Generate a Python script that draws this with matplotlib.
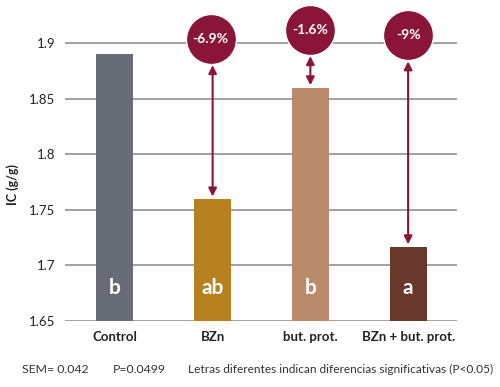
import matplotlib
matplotlib.use("Agg")
import matplotlib.pyplot as plt

plt.rcParams['font.family'] = ['Lato', 'DejaVu Sans']

categories = ["Control", "BZn", "but. prot.", "BZn + but. prot."]
ic_values = [1.89, 1.76, 1.86, 1.717]
letters = ["b", "ab", "b", "a"]
changes = ["-6.9%", "-1.6%", "-9%"]
yticks = [1.65, 1.7, 1.75, 1.8, 1.85, 1.9]
ytick_labels = ["1.65", "1.7", "1.75", "1.8", "1.85", "1.9"]

bar_colors = ["#676c77", "#b7811f", "#b98b6a", "#6a372d"]
circle_color = "#8b1538"

fig = plt.figure(figsize=(5, 3.87), dpi=100)
ax = fig.add_axes([0.13, 0.1705, 0.784, 0.8295])

x = list(range(len(categories)))
ax.bar(x, [v - 1.65 for v in ic_values], bottom=1.65, width=0.38,
       color=bar_colors, zorder=3)

ax.set_xlim(-0.51, 3.5)
ax.set_ylim(1.65, 1.9387)
ax.set_yticks(yticks)
ax.set_yticklabels(ytick_labels)
ax.yaxis.grid(True, color="#9a9a9a", lw=1.3, zorder=0)
ax.set_axisbelow(True)
for s in ax.spines.values():
    s.set_visible(False)
ax.tick_params(axis='y', length=0, pad=7, labelsize=9.5, labelcolor="#222222")
ax.tick_params(axis='x', length=0, pad=7, labelsize=9.5)
ax.set_xticks(x)
ax.set_xticklabels(categories, fontweight='bold', color="#222222")
fig.text(0.026, 0.522, "IC (g/g)", fontweight='bold', fontsize=9, color="#222222",
         rotation=90, ha='center', va='center')

# letters inside bars
for xi, lt in zip(x, letters):
    ax.text(xi, 1.68, lt, ha='center', va='center', color='white',
            fontsize=15, fontweight='bold', zorder=4)

# circles with arrows
circle_y = [1.9036, 1.9117, 1.907]
circle_x = [1.0 - 0.02, 2.0, 3.0]
r = 0.0225
for i, (cx, cy, lab) in enumerate(zip(circle_x, circle_y, changes)):
    top = ic_values[i + 1]
    ax.annotate("", xy=(i + 1, top + 0.002), xytext=(i + 1, cy - r - 0.001),
                arrowprops=dict(arrowstyle='<|-|>', color=circle_color, lw=1.5,
                                mutation_scale=12, shrinkA=0, shrinkB=0),
                zorder=5, annotation_clip=False)
    ax.scatter([cx], [cy], s=1300, color=circle_color, edgecolor='white',
               linewidth=1.0, zorder=6, clip_on=False)
    ax.text(cx, cy, lab, ha='center', va='center', color='white',
            fontsize=10, fontweight='bold', zorder=7)

fig.text(0.044, 0.044, "SEM= 0.042", fontsize=8.8, color="#333333", va='center')
fig.text(0.226, 0.044, "P=0.0499", fontsize=8.8, color="#333333", va='center')
fig.text(0.376, 0.044, "Letras diferentes indican diferencias significativas (P<0.05)",
         fontsize=8.6, color="#333333", va='center')

fig.savefig("out.png", dpi=100, facecolor='white')
